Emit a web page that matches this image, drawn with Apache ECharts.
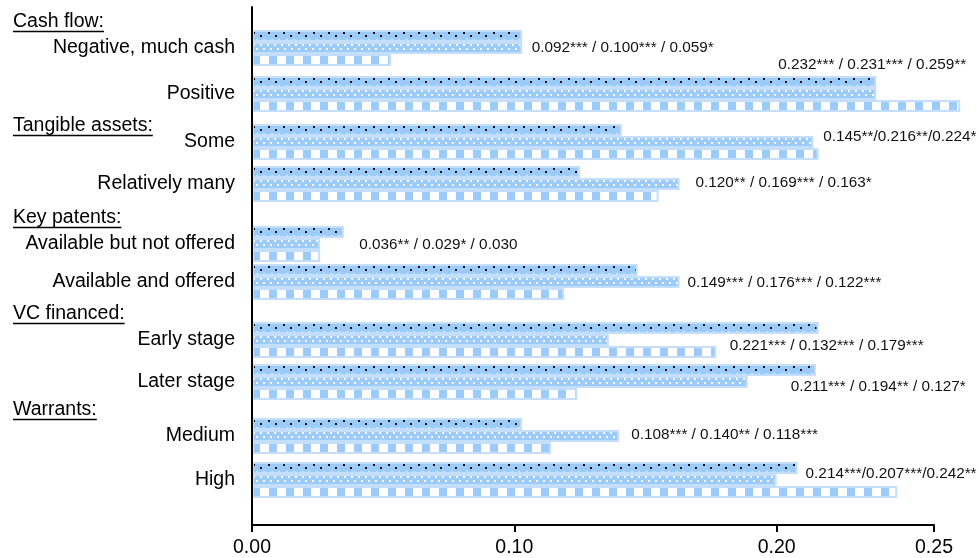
<!DOCTYPE html>
<html>
<head>
<meta charset="utf-8">
<script src="https://cdn.jsdelivr.net/npm/echarts@6/dist/echarts.min.js"></script>
<style>html,body{margin:0;padding:0;background:#fff}#c{width:978px;height:558px}</style>
</head>
<body>
<div id="c"></div>
<script>
// ---------- data ----------
const categories = ['Negative, much cash', 'Positive', 'Some', 'Relatively many',
  'Available but not offered', 'Available and offered', 'Early stage', 'Later stage', 'Medium', 'High'];
const groupHeaders = ['Cash flow:', 'Tangible assets:', 'Key patents:', 'VC financed:', 'Warrants:'];
const barsDotted    = [0.103, 0.238, 0.141, 0.125, 0.035, 0.147, 0.216, 0.215, 0.103, 0.208];
const barsWhiteDots = [0.103, 0.238, 0.214, 0.163, 0.026, 0.163, 0.136, 0.189, 0.140, 0.200];
const barsChecked   = [0.053, 0.270, 0.216, 0.155, 0.026, 0.119, 0.177, 0.124, 0.114, 0.246];
const valueLabels = [
  '0.092*** / 0.100*** / 0.059*',
  '0.232*** / 0.231*** / 0.259**',
  '0.145**/0.216**/0.224*',
  '0.120** / 0.169*** / 0.163*',
  '0.036** / 0.029* / 0.030',
  '0.149*** / 0.176*** / 0.122***',
  '0.221*** / 0.132*** / 0.179***',
  '0.211*** / 0.194** / 0.127*',
  '0.108*** / 0.140** / 0.118***',
  '0.214***/0.207***/0.242**'
];
const xTickLabels = ['0.00', '0.10', '0.20', '0.25'];

// ---------- layout (not data) ----------
const SLOT_COUNT = 259;                       // fine row grid on the category axis
const itemSlots = [20, 43, 67, 88, 118, 137, 166, 187, 214, 236];
const headerSlots = [7, 59, 105, 153, 201];
const labelOffsets = [[4.5, 0], [-103, -29], [5, -5], [11, -1], [34, 1], [3, 1], [116, 6], [38, 5], [7, -1], [24, -6]];
const FONT = '"Liberation Sans", Arial, sans-serif';
const BLUE = '#9ccbfa';
const EDGE = '#c3dffb';
const BAR_W = 12;

function makeTile(kind) {
  const c = document.createElement('canvas');
  const w = kind === 0 ? 15 : (kind === 1 ? 14 : 17), h = 12;
  c.width = w; c.height = h;
  const g = c.getContext('2d');
  if (kind === 2) {
    g.fillStyle = '#ffffff'; g.fillRect(0, 0, w, h);
    g.fillStyle = BLUE; g.fillRect(0, 0, 8, h);
  } else {
    g.fillStyle = BLUE; g.fillRect(0, 0, w, h);
    if (kind === 0) {
      g.fillStyle = '#111'; g.fillRect(1, 2, 2, 2); g.fillRect(8, 5, 2, 2);
      g.fillStyle = '#cfe6fd'; g.fillRect(4, 9, 2, 2); g.fillRect(11, 9, 2, 2);
    } else {
      g.fillStyle = '#f5faff';
      g.fillRect(1, 2, 2, 2); g.fillRect(8, 2, 2, 2);
      g.fillRect(4, 6, 2, 2); g.fillRect(11, 6, 2, 2);
    }
  }
  return c;
}
const tiles = [makeTile(0), makeTile(1), makeTile(2)];

const slotNames = Array.from({length: SLOT_COUNT}, (_, i) => {
  const ci = itemSlots.indexOf(i);
  return ci >= 0 ? categories[ci] : '\u200b' + i;
});

function measure(t) {
  const c = document.createElement('canvas').getContext('2d');
  c.font = '19.5px ' + FONT;
  return c.measureText(t).width;
}

function seriesData(values, s, py) {
  const arr = new Array(SLOT_COUNT).fill(null);
  values.forEach((v, i) => {
    const item = {value: v};
    if (py) {
      item.itemStyle = {color: {image: tiles[s], repeat: 'repeat', x: 252, y: py[i] - 1.5 * BAR_W + s * BAR_W}};
    }
    if (s === 1) {
      item.label = {show: true, position: 'right', distance: 5, offset: labelOffsets[i]};
    }
    arr[itemSlots[i]] = item;
  });
  return arr;
}

function buildOption(py, hy) {
  const vals = [barsDotted, barsWhiteDots, barsChecked];
  const graphic = [];
  if (hy) {
    groupHeaders.forEach((t, j) => {
      graphic.push({type: 'text', x: 13, y: hy[j], z: 10,
        style: {text: t, font: '19.5px ' + FONT, fill: '#000', align: 'left', verticalAlign: 'middle'}});
      graphic.push({type: 'rect', z: 10, shape: {x: 13, y: hy[j] + 8.8, width: measure(t), height: 1.5},
        style: {fill: '#000'}});
    });
  }
  return {
    animation: false,
    backgroundColor: '#fff',
    grid: {left: 252, right: 44, top: 7, bottom: 33, containLabel: false, outerBoundsMode: 'none'},
    xAxis: {
      type: 'value', min: 0, max: 0.26, interval: 0.1,
      splitLine: {show: false},
      axisLine: {show: true, lineStyle: {color: '#000', width: 2}},
      axisTick: {show: true, length: 7, lineStyle: {color: '#000', width: 2}},
      axisLabel: {margin: 13, fontFamily: FONT, fontSize: 19.5, color: '#000',
        showMinLabel: true, showMaxLabel: true,
        formatter: (v, i) => (xTickLabels[i] !== undefined ? xTickLabels[i] : '')}
    },
    yAxis: {
      type: 'category', inverse: true, data: slotNames, z: 5,
      axisLine: {show: true, onZero: false, lineStyle: {color: '#000', width: 2}},
      axisTick: {show: false},
      splitLine: {show: false},
      axisLabel: {interval: 0, margin: 17, fontFamily: FONT, fontSize: 19.5, color: '#000',
        formatter: v => (categories.indexOf(v) >= 0 ? v : '')}
    },
    graphic: graphic,
    series: vals.map((v, s) => ({
      type: 'bar', clip: false, barWidth: BAR_W, barGap: '0%',
      itemStyle: {color: BLUE, borderColor: EDGE, borderWidth: 2},
      label: {show: false, color: '#111', fontFamily: FONT, fontSize: 15.3,
        formatter: p => valueLabels[categories.indexOf(p.name)]},
      emphasis: {disabled: true},
      data: seriesData(v, s, py)
    }))
  };
}

const chart = echarts.init(document.getElementById('c'), null, {renderer: 'canvas'});
chart.setOption(buildOption(null, null));
const py = itemSlots.map(k => chart.convertToPixel({yAxisIndex: 0}, k));
const hy = headerSlots.map(k => chart.convertToPixel({yAxisIndex: 0}, k));
chart.setOption(buildOption(py, hy));
</script>
</body>
</html>
